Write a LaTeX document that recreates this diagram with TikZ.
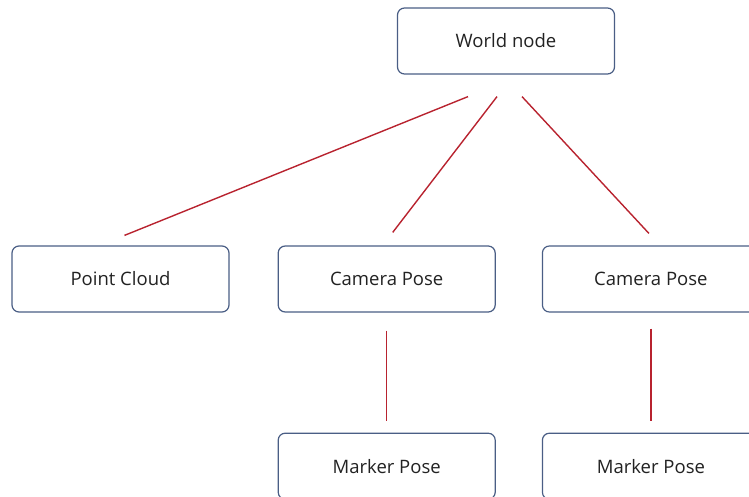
\documentclass[tikz,border=0pt]{standalone}
\usepackage{fontspec}
\setmainfont{Open Sans}
\usepackage{tikz}
\usetikzlibrary{positioning}
\definecolor{frame}{HTML}{4A5E85}
\definecolor{link}{HTML}{B8232F}
\definecolor{ink}{HTML}{222222}

\begin{document}
\begin{tikzpicture}[
  box/.style={draw=frame,fill=white,rounded corners=7pt,line width=1.2pt,
              minimum width=217pt,minimum height=66pt,text=ink,
              font=\fontsize{18.5}{22}\selectfont},
  edge/.style={draw=link,line width=1.4pt}
]
\clip (0,0) rectangle (749pt,-497pt);
% top row
\node[box] (world) at (506pt,-41pt) {World node};
% middle row
\node[box] (cloud) at (120.5pt,-279pt) {Point Cloud};
\node[box,right=48pt of cloud] (camA) {Camera Pose};
\node[box,right=46pt of camA] (camB) {Camera Pose};
% bottom row
\node[box,below=120pt of camA] (markA) {Marker Pose};
\node[box,below=120pt of camB] (markB) {Marker Pose};
% links
\draw[edge] ([xshift=-38pt,yshift=-22pt]world.south) -- ([xshift=4pt,yshift=10pt]cloud.north);
\draw[edge] ([xshift=-9pt,yshift=-22pt]world.south) -- ([xshift=6pt,yshift=13pt]camA.north);
\draw[edge] ([xshift=16pt,yshift=-22pt]world.south) -- ([xshift=-2pt,yshift=12pt]camB.north);
\draw[edge,shorten <=18pt,shorten >=12pt] (camA.south) -- (markA.north);
\draw[edge,shorten <=16pt,shorten >=12pt] (camB.south) -- (markB.north);
\end{tikzpicture}
\end{document}
